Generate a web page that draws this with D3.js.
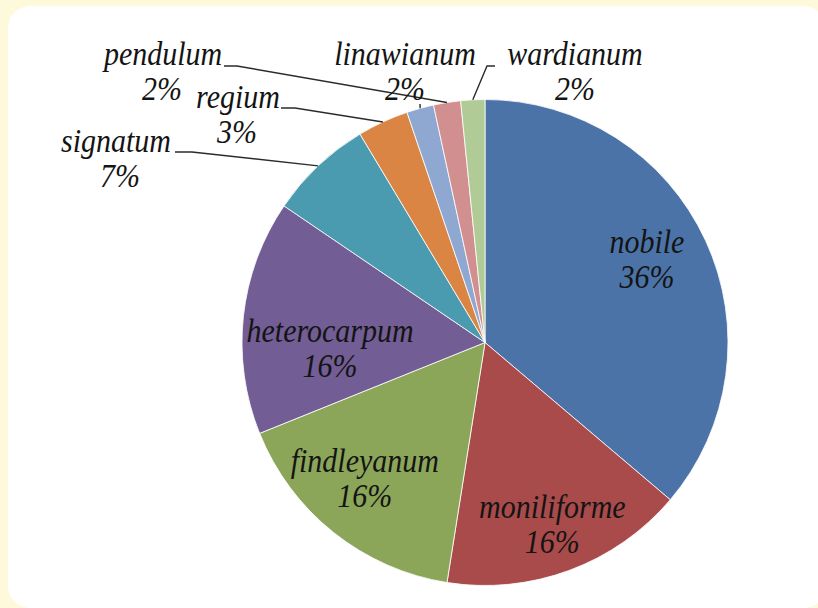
<!DOCTYPE html>
<html>
<head>
<meta charset="utf-8">
<script src="https://cdn.jsdelivr.net/npm/d3@7"></script>
<style>
  body { margin: 0; background: #fef9da; }
  svg { display: block; }
</style>
</head>
<body>
<div id="wrapper"></div>
<script>
// species share, clockwise from 12 o'clock
const species = ["nobile", "moniliforme", "findleyanum", "heterocarpum", "signatum",
                 "regium", "pendulum", "linawianum", "wardianum"];
const shares = [36.2, 16.3, 16.4, 15.6, 6.9, 3.4, 1.8, 1.8, 1.6];
const percentLabels = ["36%", "16%", "16%", "16%", "7%", "3%", "2%", "2%", "2%"];
const colors = ["#4b73a8", "#a94b4b", "#8ba659", "#725d94", "#4a9ab0",
                "#db8544", "#8ea8d2", "#d28f8f", "#b0cb96"];

function buildChart() {
    const dimension = {width: 818, height: 608, cx: 485, cy: 342.5, radius: 243};

    const svg = d3.select("#wrapper").append("svg")
        .attr("width", dimension.width)
        .attr("height", dimension.height);

    // white card on the yellow page
    svg.append("rect")
        .attr("x", 8).attr("y", 6)
        .attr("width", 818).attr("height", 602)
        .attr("rx", 22)
        .attr("fill", "#ffffff");

    const data = species.map((name, i) => ({name: name, value: shares[i], pct: percentLabels[i], color: colors[i]}));

    const pie = d3.pie().sort(null).value(d => d.value);
    const arcs = pie(data);

    const arc = d3.arc().innerRadius(0).outerRadius(dimension.radius);
    const edge = d3.arc().innerRadius(dimension.radius).outerRadius(dimension.radius);
    const labelArc = d3.arc().innerRadius(185).outerRadius(185);

    const g = svg.append("g")
        .attr("transform", `translate(${dimension.cx},${dimension.cy})`);

    g.selectAll("path.slice")
        .data(arcs)
        .join("path")
        .attr("class", "slice")
        .attr("d", arc)
        .attr("fill", d => d.data.color)
        .attr("stroke", "#ffffff")
        .attr("stroke-width", 0.8);

    const font = {family: "'Liberation Serif', 'Times New Roman', serif", size: 30};

    // two-line label, slightly stretched vertically like the original
    function label(parent, x, y, name, pct, pctDx) {
        const t = parent.append("text")
            .attr("transform", `translate(${x},${y}) scale(1,1.1)`)
            .attr("text-anchor", "middle")
            .attr("font-family", font.family)
            .attr("font-style", "italic")
            .attr("font-size", font.size)
            .attr("fill", "#141414");
        t.append("tspan").attr("x", 0).attr("y", 0).text(name);
        t.append("tspan").attr("x", pctDx).attr("y", 32).text(pct);
    }

    // inside labels: first four slices
    const nudge = [[-6, -2], [3, 12], [-5, -5], [29, 29]];
    arcs.slice(0, 4).forEach((a, i) => {
        const c = labelArc.centroid(a);
        label(g, c[0] + nudge[i][0], c[1] + nudge[i][1] - 10, a.data.name, a.data.pct, 0);
    });

    // outside labels (page coordinates) and where their leader starts
    const outside = {
        signatum:   {x: 116, y: 152, pctDx: 4,  line: [[175, 152], [192, 152]]},
        regium:     {x: 238, y: 108, pctDx: -1, line: [[281, 108], [295, 108]]},
        pendulum:   {x: 163, y: 65,  pctDx: -1, line: [[224, 66], [237, 66]]},
        linawianum: {x: 405, y: 65,  pctDx: 0,  line: [[420, 104]]},
        wardianum:  {x: 575, y: 65,  pctDx: 0,  line: [[495, 66], [487, 66]]}
    };
    // leader lines in the original cross: pendulum points at the pink slice,
    // linawianum's tick drops onto the light-blue one
    const leaderTarget = {signatum: "signatum", regium: "regium", pendulum: "linawianum",
                          linawianum: "pendulum", wardianum: "wardianum"};

    const byName = {};
    arcs.forEach(a => byName[a.data.name] = a);

    Object.keys(outside).forEach(name => {
        const o = outside[name];
        const a = byName[name];
        const end = edge.centroid(byName[leaderTarget[name]]);
        const pts = o.line.concat([[end[0] + dimension.cx, end[1] + dimension.cy]]);
        svg.append("path")
            .attr("d", d3.line()(pts))
            .attr("fill", "none")
            .attr("stroke", "#2b2b2b")
            .attr("stroke-width", 1.4);

        label(svg, o.x, o.y, a.data.name, a.data.pct, o.pctDx);
    });
}

buildChart();
</script>
</body>
</html>
